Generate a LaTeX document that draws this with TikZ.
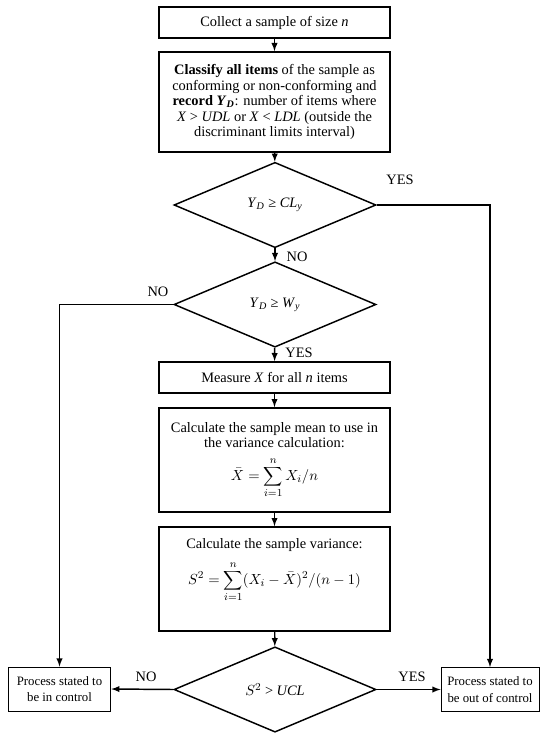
\documentclass[tikz,border=0pt]{standalone}
\usepackage{fontspec}
\setmainfont{Liberation Serif}
\usetikzlibrary{shapes}

\tikzset{
  stepbox/.style={draw, line width=1.3pt, minimum width=173pt, align=center, inner sep=2pt,
    font=\fontsize{10.8}{11.6}\selectfont},
  test/.style={draw, diamond, line width=1.1pt, minimum width=151.5pt, minimum height=64pt,
    inner sep=0pt, font=\fontsize{10.8}{12}\selectfont},
  endbox/.style={draw, line width=0.7pt, align=center, minimum height=33pt,
    font=\fontsize{9.6}{12.5}\selectfont},
  arr/.style={-latex, line width=1.1pt},
  lbl/.style={font=\fontsize{10.8}{12}\selectfont}
}

\begin{document}
\begin{tikzpicture}[x=0.75pt,y=-0.75pt]
  \useasboundingbox (0,0) rectangle (550,738);

  \node[stepbox, minimum height=23.25pt] (collect) at (274.5,22.5) {Collect a sample of size \textit{n}};
  \node[stepbox, minimum height=75pt] (classify) at (274.5,102)
    {\textbf{Classify all items} of the sample as\\
     conforming or non-conforming and\\
     \textbf{record \textit{Y}\textsubscript{\textit{D}}}: number of items where\\
     \textit{X} > \textit{UDL} or \textit{X} < \textit{LDL} (outside the\\
     discriminant limits interval)};
  \node[test] (limit) at (275,205) {\textit{Y}\textsubscript{\textit{D}} ≥ \textit{CL}\textsubscript{\textit{y}}};
  \node[test] (warn) at (275,304.5) {\textit{Y}\textsubscript{\textit{D}} ≥ \textit{W}\textsubscript{\textit{y}}};
  \node[stepbox, minimum height=23.25pt] (measure) at (274.5,377.5) {Measure \textit{X} for all \textit{n} items};
  \node[stepbox, minimum height=78pt] (mean) at (274.5,460)
    {Calculate the sample mean to use in\\
     the variance calculation:\\[6pt]
     $\displaystyle \bar{X}=\sum_{i=1}^{n} X_i/n$};
  \node[stepbox, minimum height=78pt] (var) at (274.5,579)
    {Calculate the sample variance:\\[6pt]
     $\displaystyle S^2=\sum_{i=1}^{n}(X_i-\bar{X})^2/(n-1)$\\[12pt]};
  \node[test] (ucl) at (275,689.5) {$S^2$ > \textit{UCL}};
  \node[endbox, minimum width=77pt] (inctrl) at (59.5,689) {Process stated to\\be in control};
  \node[endbox, minimum width=73.5pt] (outctrl) at (490,689.5) {Process stated to\\be out of control};

  \draw[arr] (collect) -- (classify);
  \draw[arr] (classify) -- (limit);
  \draw[arr] (limit) -- (warn);
  \draw[arr] (limit.east) -| (outctrl.north);
  \draw[arr] (warn.west) -| (inctrl.north);
  \draw[arr] (warn) -- (measure);
  \draw[arr] (measure) -- (mean);
  \draw[arr] (mean) -- (var);
  \draw[arr] (var) -- (ucl);
  \draw[arr] (ucl.west) -- (inctrl.east);
  \draw[arr] (ucl.east) -- (outctrl.west);

  \node[lbl] (yes1) at (400,180) {YES};
  \node[lbl] (no1) at (297,257) {NO};
  \node[lbl] (no2) at (158,292) {NO};
  \node[lbl] (yes2) at (299,353) {YES};
  \node[lbl] (no3) at (146,677) {NO};
  \node[lbl] (yes3) at (412,677) {YES};
\end{tikzpicture}
\end{document}
